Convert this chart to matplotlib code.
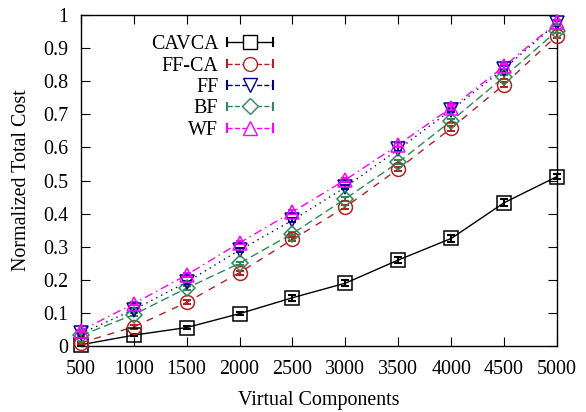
import matplotlib
matplotlib.use('Agg')
import matplotlib.pyplot as plt
from matplotlib.lines import Line2D
from matplotlib.legend_handler import HandlerBase

plt.rcParams['font.family'] = ['Liberation Serif', 'DejaVu Serif']
plt.rcParams['font.size'] = 14.4

components = [500, 1000, 1500, 2000, 2500, 3000, 3500, 4000, 4500, 5000]

cavca = [0.004, 0.033, 0.056, 0.098, 0.146, 0.190, 0.260, 0.325, 0.433, 0.512]
ffca = [0.010, 0.058, 0.132, 0.222, 0.322, 0.420, 0.535, 0.658, 0.790, 0.938]
ff = [0.038, 0.110, 0.193, 0.290, 0.380, 0.480, 0.594, 0.713, 0.838, 0.975]
bf = [0.032, 0.095, 0.175, 0.250, 0.340, 0.445, 0.555, 0.680, 0.813, 0.952]
wf = [0.047, 0.128, 0.215, 0.312, 0.405, 0.502, 0.608, 0.720, 0.845, 0.978]

cavca_err = [0.003, 0.004, 0.004, 0.005, 0.009, 0.009, 0.010, 0.011, 0.011, 0.008]
ffca_err = [0.003, 0.006, 0.006, 0.006, 0.006, 0.007, 0.007, 0.007, 0.008, 0.008]
ff_err = [0.003, 0.005, 0.005, 0.005, 0.006, 0.006, 0.006, 0.007, 0.007, 0.007]
bf_err = [0.003, 0.005, 0.005, 0.005, 0.006, 0.006, 0.006, 0.007, 0.007, 0.007]
wf_err = [0.003, 0.005, 0.005, 0.005, 0.006, 0.006, 0.006, 0.007, 0.007, 0.007]

yticks = [0, 0.1, 0.2, 0.3, 0.4, 0.5, 0.6, 0.7, 0.8, 0.9, 1]
ytick_labels = ['0', '0.1', '0.2', '0.3', '0.4', '0.5', '0.6', '0.7', '0.8', '0.9', '1']

series = [
    ('CAVCA', cavca, cavca_err, 'black', '-', 's', 10),
    ('FF-CA', ffca, ffca_err, '#b22222', (0, (5, 5)), 'o', 10),
    ('FF', ff, ff_err, '#00008b', (0, (1, 3)), 'v', 10),
    ('BF', bf, bf_err, '#2e8b57', (0, (6, 3)), 'D', 8),
    ('WF', wf, wf_err, '#ff00ff', (0, (6, 3, 1, 3)), '^', 10),
]


class CapHandler(HandlerBase):
    # gnuplot style key: line with caps at both ends, marker in the middle
    def create_artists(self, legend, orig, xd, yd, w, h, fontsize, trans):
        y = h / 2 - yd
        x0, x1 = -xd, w - xd
        c = 0.27 * h
        col = orig.get_color()
        ln = Line2D([x0, x1], [y, y], color=col, linestyle=orig.get_linestyle(),
                    linewidth=orig.get_linewidth())
        capl = Line2D([x0, x0], [y - c, y + c], color=col, linewidth=1.5)
        capr = Line2D([x1, x1], [y - c, y + c], color=col, linewidth=1.5)
        mk = Line2D([(x0 + x1) / 2], [y], marker=orig.get_marker(), markersize=orig.get_markersize(),
                    markerfacecolor='white', markeredgecolor=col, linestyle='none')
        arts = [ln, capl, capr, mk]
        for a in arts:
            a.set_transform(trans)
        return arts


fig = plt.figure(figsize=(5.86, 4.12), dpi=100)
ax = fig.add_axes([0.138, 0.160, 0.8125, 0.8036])

handles = []
for name, vals, err, col, ls, mk, ms in series:
    ax.plot(components, vals, color=col, linestyle=ls, linewidth=1, clip_on=False, zorder=2)
    ax.errorbar(components, vals, yerr=err, fmt='none', ecolor=col, elinewidth=1.5,
                capsize=3, capthick=1.5, clip_on=False, zorder=3)
    ax.plot(components, vals, linestyle='none', marker=mk, markersize=ms,
            markerfacecolor='none', markeredgecolor=col, markeredgewidth=1.1,
            clip_on=False, zorder=4)
    handles.append(Line2D([], [], color=col, linestyle=ls, linewidth=1, marker=mk, markersize=ms))

ax.set_xlim(500, 5000)
ax.set_ylim(0, 1)
ax.set_xticks(components)
ax.set_yticks(yticks)
ax.set_yticklabels(ytick_labels)
ax.tick_params(axis='x', direction='in', top=True, length=6.5, width=0.8, pad=10)
ax.tick_params(axis='y', direction='in', right=True, length=6.5, width=0.8, pad=9)
for s in ax.spines.values():
    s.set_linewidth(1)

ax.set_xlabel('Virtual Components', labelpad=9)
ax.set_ylabel('Normalized Total Cost', labelpad=9)

leg = ax.legend(handles, [s[0] for s in series], loc='upper left', bbox_to_anchor=(0.13, 0.963),
                frameon=False, markerfirst=False, handlelength=2.3, handletextpad=0.45,
                labelspacing=0.12, borderaxespad=0, fontsize=14.4,
                handler_map={h: CapHandler() for h in handles})

fig.savefig('out.png', dpi=100)
